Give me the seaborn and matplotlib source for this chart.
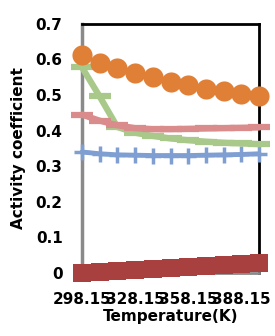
import matplotlib
matplotlib.use("Agg")
import matplotlib.pyplot as plt
import seaborn as sns
import pandas as pd
import numpy as np

# Data
temperatures = ["298.15", "308.15", "318.15", "328.15", "338.15", "348.15",
                "358.15", "368.15", "378.15", "388.15", "398.15"]
tick_labels = ["298.15", "328.15", "358.15", "388.15"]
orange_vals = [0.612, 0.589, 0.575, 0.561, 0.550, 0.538, 0.528, 0.518, 0.510, 0.504, 0.496]
pink_vals = [0.445, 0.428, 0.415, 0.407, 0.404, 0.404, 0.405, 0.406, 0.407, 0.408, 0.409]
green_vals = [0.578, 0.496, 0.410, 0.394, 0.385, 0.378, 0.373, 0.369, 0.366, 0.364, 0.362]
blue_vals = [0.340, 0.335, 0.332, 0.331, 0.330, 0.330, 0.330, 0.331, 0.332, 0.333, 0.335]
red_vals = [0.000, 0.003, 0.006, 0.008, 0.011, 0.014, 0.017, 0.020, 0.022, 0.025, 0.028]

sns.set_theme(style="white")
plt.rcParams['font.family'] = ['DejaVu Sans']

fig = plt.figure(figsize=(2.75, 3.36), dpi=100)
ax = fig.add_axes([0.298, 0.1875, 0.644, 0.7415])

idx = list(range(len(temperatures)))

series = [
    (blue_vals, "#7f9fd2", dict(marker="+", markersize=11, markeredgewidth=2.5, linewidth=3.5)),
    (green_vals, "#a9c98a", dict(marker="_", markersize=16, markeredgewidth=4.5, linewidth=4.5)),
    (pink_vals, "#d98c8b", dict(marker="_", markersize=16, markeredgewidth=4.5, linewidth=4.5)),
    (orange_vals, "#e07f36", dict(marker="o", markersize=14.5, markeredgewidth=0, linewidth=3)),
    (red_vals, "#a8403f", dict(marker="s", markersize=13.5, markeredgewidth=0, linewidth=3)),
]

for vals, color, kw in series:
    df = pd.DataFrame({"x": idx, "y": vals})
    sns.lineplot(data=df, x="x", y="y", ax=ax, color=color, clip_on=False,
                 markeredgecolor=color, zorder=3, **kw)

ax.set_xlim(0, 10)
ax.set_ylim(0, 0.7)
ax.set_yticks([0, 0.1, 0.2, 0.3, 0.4, 0.5, 0.6, 0.7])
ax.set_yticklabels(["0", "0.1", "0.2", "0.3", "0.4", "0.5", "0.6", "0.7"])
ax.set_xticks([0, 3, 6, 9])
ax.set_xticklabels(tick_labels)
ax.tick_params(axis="both", length=0, labelsize=11, colors="black")
ax.tick_params(axis="y", pad=14)
ax.tick_params(axis="x", pad=14)
for lab in ax.get_xticklabels() + ax.get_yticklabels():
    lab.set_fontweight("bold")

ax.set_xlabel("Temperature(K)", fontsize=11, fontweight="bold", labelpad=1, color="black")
ax.set_ylabel("Activity coefficient", fontsize=11, fontweight="bold", labelpad=7, color="black")

for s in ["top", "right"]:
    ax.spines[s].set_color("black")
    ax.spines[s].set_linewidth(2)
ax.spines["left"].set_color("#8a8a8a")
ax.spines["left"].set_linewidth(2.5)
ax.spines["bottom"].set_color("#8a8a8a")
ax.spines["bottom"].set_linewidth(2)
ax.spines["left"].set_zorder(2)

fig.savefig("out.png", dpi=100)
